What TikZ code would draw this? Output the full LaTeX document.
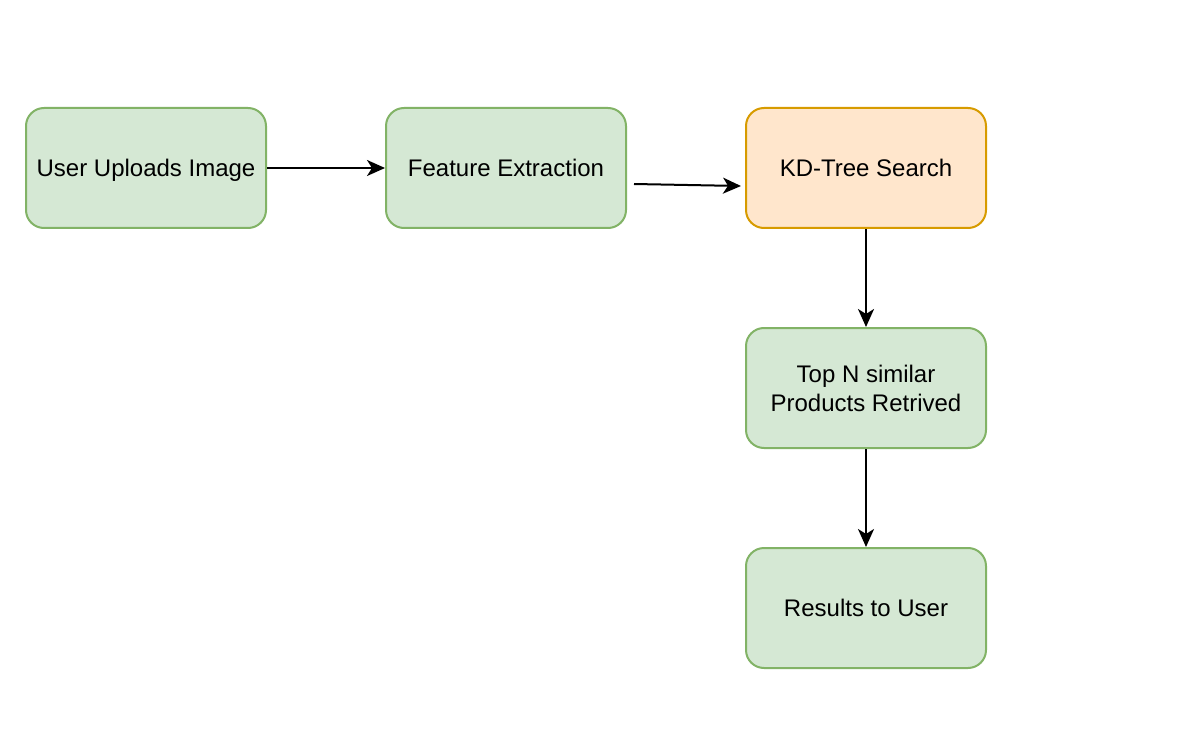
\documentclass[tikz,border=0pt]{standalone}
\usepackage{fontspec}
\setmainfont{Liberation Sans}
\usepackage{xcolor}
\usepackage{tikz}
\usetikzlibrary{arrows.meta, positioning}

\definecolor{greenfill}{HTML}{D5E8D4}
\definecolor{greendraw}{HTML}{82B366}
\definecolor{orangefill}{HTML}{FFE6CC}
\definecolor{orangedraw}{HTML}{D79B00}

\begin{document}
\begin{tikzpicture}[
    x=0.5pt, y=-0.5pt,
    every node/.style={font=\fontsize{12}{14.4}\selectfont},
    box/.style={rectangle, draw=greendraw, fill=greenfill, rounded corners=9pt, line width=1pt,
                align=center, inner sep=2pt, text depth=0pt,
                minimum width=120pt, minimum height=60pt},
    hot/.style={box, draw=orangedraw, fill=orangefill},
    arrow/.style={-{Stealth[length=9pt, width=8pt, inset=2.5pt]}, line width=1pt, draw=black}
]
\useasboundingbox (0,0) rectangle (1199,743);

% === Top row ===
\node[box] (upload) at (146,168) {User Uploads Image};
\node[box] (extract) at (506,168) {Feature Extraction};
\node[hot] (kdtree) at (866,168) {KD-Tree Search};

% === Right column ===
\node[box] (topn) at (866,388) {Top N similar\\Products Retrived};
\node[box] (result) at (866,608) {Results to User};

% loose arrow between extraction and search
\coordinate (extout) at (634,184);
\coordinate (kdin) at (741,186);

\draw[arrow] (upload) -- (extract);
\draw[arrow] (extout) -- (kdin);
\draw[arrow] (kdtree) -- (topn);
\draw[arrow] (topn) -- (result);

\end{tikzpicture}
\end{document}
